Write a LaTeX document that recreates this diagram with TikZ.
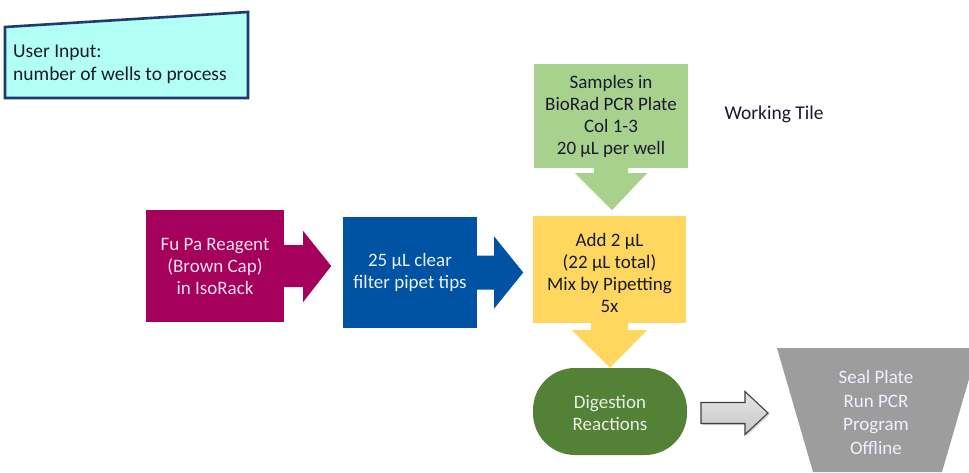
\documentclass[tikz,border=0pt]{standalone}
\usepackage{fontspec}
\setmainfont{Carlito}
\usetikzlibrary{calc,shadows}
\definecolor{cyanbox}{HTML}{B2FFF6}
\definecolor{navyline}{HTML}{1F3A70}
\definecolor{magbox}{HTML}{A5005C}
\definecolor{bluebox}{HTML}{0052A3}
\definecolor{ltgreen}{HTML}{A9D18E}
\definecolor{goldbox}{HTML}{FFD75F}
\definecolor{dkgreen}{HTML}{538135}
\definecolor{graybox}{HTML}{9D9D9D}
\definecolor{darktxt}{HTML}{1A1A2E}
\tikzset{
  txt/.style={font=\fontsize{19}{22}\selectfont, align=center, inner sep=0pt},
  blockbox/.style={rectangle, draw=none, inner sep=0pt},
}
\begin{document}
\begin{tikzpicture}[x=1pt,y=-1pt]
\useasboundingbox (0,0) rectangle (969,472);
\fill[white] (0,0) rectangle (969,472);

% user input (manual input shape)
\draw[fill=cyanbox, draw=navyline, line width=2.6pt, line join=miter]
  (5,27) -- (248,12) -- (248,98) -- (5,98) -- cycle;
\node[txt, align=left, anchor=west, text=darktxt, font=\fontsize{19.5}{23}\selectfont] (user) at (13,64.5) {User Input:\\number of wells to process};

% boxes
\node[blockbox, fill=magbox, minimum width=138pt, minimum height=112pt] (reag) at (215,266) {};
\node[blockbox, fill=bluebox, minimum width=134pt, minimum height=111pt] (tips) at (410,272.5) {};
\node[blockbox, fill=ltgreen, minimum width=154pt, minimum height=104pt] (samp) at (611,116) {};
\node[blockbox, fill=goldbox, minimum width=153pt, minimum height=107pt] (add) at (609.5,269.5) {};
\node[blockbox, fill=dkgreen, rounded corners=42pt, minimum width=154pt, minimum height=87pt] (dig) at (610,411.5) {};

% texts
\node[txt, text=white!88!magbox] (reagt) at (reag.center) {Fu Pa Reagent\\(Brown Cap)\\in IsoRack};
\node[txt, text=white!92!bluebox] (tipst) at (tips.center) {25 µL clear\\filter pipet tips};
\node[txt, text=darktxt] (sampt) at (samp.center) {Samples in\\BioRad PCR Plate\\Col 1-3\\20 µL per well};
\node[txt, text=darktxt] (addt) at ($(add.center)+(0,3)$) {Add 2 µL\\(22 µL total)\\Mix by Pipetting\\5x};
\node[txt, text=white!88!dkgreen] (digt) at ($(dig.center)+(0,1)$) {Digestion\\Reactions};
\node[txt, text=darktxt, font=\fontsize{19.5}{22}\selectfont] (work) at (774,114) {Working Tile};

% block arrows
\fill[magbox] ($(reag.east)+(-1,-21)$) -- ++(20,0) -- ++(0,-14) -- ($(reag.east)+(47,0)$)
  -- ($(reag.east)+(19,36)$) -- ++(0,-15) -- ++(-20,0) -- cycle;
\fill[bluebox] ($(tips.east)+(-1,-17)$) -- ++(18,0) -- ++(0,-19) -- ($(tips.east)+(46,0)$)
  -- ($(tips.east)+(17,36)$) -- ++(0,-19) -- ++(-18,0) -- cycle;
\fill[ltgreen] ($(samp.south)+(-17,-1)$) -- ++(0,6) -- ++(-19,0) -- ($(samp.south)+(1,42)$)
  -- ($(samp.south)+(36,5)$) -- ++(-19,0) -- ++(0,-6) -- cycle;
\fill[goldbox] ($(add.south)+(-18.5,-1)$) -- ++(0,8) -- ++(-19,0) -- (dig.north)
  -- ($(add.south)+(37.5,7)$) -- ++(-19,0) -- ++(0,-8) -- cycle;

% gray connector arrow
\coordinate (ga) at (701,413);
\coordinate (gb) at (768,413);
\draw[draw=black!75, line width=1.1pt, top color=black!10, bottom color=black!22,
      drop shadow={shadow xshift=1.5pt, shadow yshift=-1.5pt, opacity=0.35}]
  ($(ga)+(0,-10.5)$) -- ($(ga)+(44,-10.5)$) -- ($(ga)+(44,-21.5)$) -- (gb)
  -- ($(ga)+(44,21.5)$) -- ($(ga)+(44,10.5)$) -- ($(ga)+(0,10.5)$) -- cycle;

% seal plate trapezoid
\fill[graybox] (777,348) -- (978,348) -- (942,472) -- (813,472) -- cycle;
\node[txt, text=white!94!blue, font=\fontsize{19}{23.5}\selectfont] (seal) at (876,412.5) {Seal Plate\\Run PCR\\Program\\Offline};
\end{tikzpicture}
\end{document}
